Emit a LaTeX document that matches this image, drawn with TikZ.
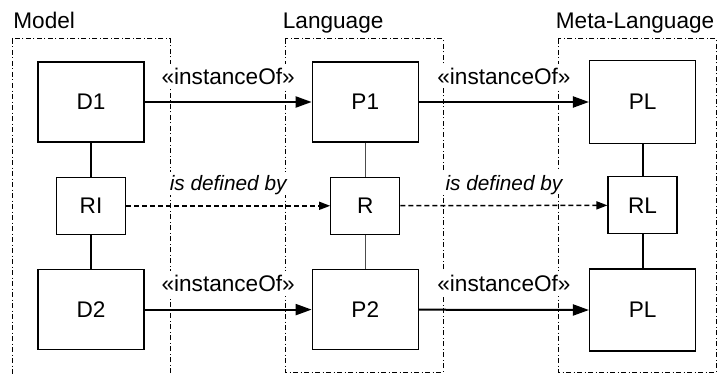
\documentclass[tikz,border=0pt]{standalone}
\usepackage{fontspec}
\setmainfont{Liberation Sans}
\usepackage{tikz}
\usetikzlibrary{positioning, arrows.meta, calc}

\begin{document}
\begin{tikzpicture}[node distance=17pt and 83.5pt,
	font=\fontsize{11.3pt}{13.5pt}\selectfont,
	elem/.style={draw, line width=0.65pt, rectangle, minimum width=53pt, minimum height=40pt, inner sep=0pt},
	small/.style={elem, minimum width=34.5pt, minimum height=28.5pt},
	layer/.style={line width=0.5pt, dash pattern=on 2.5pt off 1.25pt on 0.5pt off 1.25pt},
	title/.style={anchor=base west, inner sep=0pt},
	inst/.style={line width=1pt, -{Triangle[length=8pt, width=5.5pt]}},
	defby/.style={line width=0.75pt, dash pattern=on 2.5pt off 1.5pt, -{Triangle[length=5.5pt, width=4pt]}},
	link/.style={line width=1pt},
	thinlink/.style={line width=0.5pt, black!70},
	lbl/.style={fill=white, inner sep=2pt, text depth=0pt},
	deflbl/.style={lbl, font=\fontsize{10.4pt}{12.5pt}\selectfont\itshape}]
	\useasboundingbox (0,0) rectangle (360.5pt,-187pt);
	\clip (0,0) rectangle (360.5pt,-187pt);
	
	% Layers
	\draw[layer] (6pt,-19.5pt) rectangle (85pt,-190pt);
	\draw[layer] (142.5pt,-19.5pt) rectangle (221.5pt,-186pt);
	\draw[layer] (279pt,-19.5pt) rectangle (358pt,-186pt);
	
	\node[title] (model) at (6.5pt,-14.25pt) {Model};
	\node[title] (language) at (141.25pt,-14.25pt) {Language};
	\node[title] (metalang) at (277.75pt,-14.25pt) {Meta-Language};
	
	% Entities
	\node[elem] (d1) at (45.5pt,-51pt) {D1};
	\node[elem, right=of d1] (p1) {P1};
	\node[elem, minimum height=41.5pt, right=85pt of p1] (pl1) {PL};
	
	\node[small, below=of d1] (ri) {RI};
	\node[small, below=of p1] (r) {R};
	\node[small, below=16pt of pl1] (rl) {RL};
	
	\node[elem, below=of ri] (d2) {D2};
	\node[elem, below=of r] (p2) {P2};
	\node[elem, minimum height=41pt, below=of rl] (pl2) {PL};
	
	% Relationships
	\draw[inst] (d1) -- node[lbl, above=6.5pt] {«instanceOf»} (p1);
	\draw[inst] (p1) -- node[lbl, above=6.5pt] {«instanceOf»} (pl1);
	
	\draw[defby] (ri) -- node[deflbl, above=5.2pt] {is defined by} (r);
	\draw[defby] (r) -- node[deflbl, above=5.2pt] {is defined by} (rl);
	
	\draw[inst] (d2) -- node[lbl, above=6.5pt] {«instanceOf»} (p2);
	\draw[inst] (p2) -- node[lbl, above=6.5pt] {«instanceOf»} (pl2);
	
	\draw[link] (d1) -- (ri);
	\draw[link] (ri) -- (d2);
	\draw[thinlink] (p1) -- (r);
	\draw[thinlink] (r) -- (p2);
	\draw[link] (pl1) -- (rl);
	\draw[link] (rl) -- (pl2);
\end{tikzpicture}
\end{document}
